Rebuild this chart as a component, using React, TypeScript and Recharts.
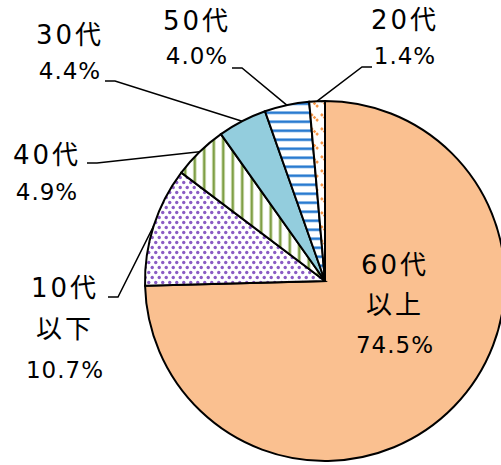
import { PieChart, Pie, Cell } from 'recharts';

// age groups, clockwise from 12 o'clock
const CATEGORIES = ['60代以上', '10代以下', '40代', '30代', '50代', '20代'];
const SHARES = [74.5, 10.7, 4.9, 4.4, 4.0, 1.4];
const LABEL_LINES = [['60代', '以上'], ['10代', '以下'], ['40代'], ['30代'], ['50代'], ['20代']];

const FILLS = [
  '#FAC090',
  'url(#dots)',
  'url(#vstripes)',
  '#93CDDD',
  'url(#hstripes)',
  'url(#dashes)',
];

// manual label placement (like Excel's dragged data labels)
const LABEL_LAYOUT = [
  { x: 395, y: 265, gap: 40 },
  { x: 65, y: 288, gap: 41, elbow: [118, 297], end: [108, 297] },
  { x: 47, y: 155, gap: 37, elbow: [97, 163], end: [87, 163] },
  { x: 70, y: 35, gap: 36, elbow: [115, 81], end: [105, 81] },
  { x: 197, y: 21, gap: 35, elbow: [242, 68], end: [232, 68] },
  { x: 405, y: 20, gap: 36, elbow: [362, 67], end: [372, 67] },
];

const data = CATEGORIES.map((name, i) => ({ name, value: SHARES[i] }));

const RAD = Math.PI / 180;
const FONT = '"DejaVu Sans", "Noto Sans CJK JP", sans-serif';

const renderLabel = (props: any) => {
  const { cx, cy, midAngle, outerRadius } = props;
  const index = props.index ?? CATEGORIES.indexOf(props.name);
  const layout = LABEL_LAYOUT[index];
  const lines = [...LABEL_LINES[index], `${SHARES[index].toFixed(1)}%`];
  const sx = cx + outerRadius * Math.cos(-midAngle * RAD);
  const sy = cy + outerRadius * Math.sin(-midAngle * RAD);
  return (
    <g key={`label-${index}`}>
      {layout.elbow && (
        <polyline
          points={`${sx},${sy} ${layout.elbow[0]},${layout.elbow[1]} ${layout.end[0]},${layout.end[1]}`}
          fill="none"
          stroke="#000"
          strokeWidth={1.5}
        />
      )}
      {lines.map((line, j) => {
        const isPct = j === lines.length - 1;
        return (
          <text
            key={j}
            x={layout.x}
            y={layout.y + j * layout.gap}
            textAnchor="middle"
            dominantBaseline="central"
            fontFamily={FONT}
            fontSize={isPct ? 23 : 26}
            letterSpacing={isPct ? 1 : 3}
            fill="#000"
          >
            {line}
          </text>
        );
      })}
    </g>
  );
};

export default function App() {
  return (
    <div style={{ width: 501, height: 465 }}>
      <style>{`body { margin: 0; }`}</style>
      <PieChart width={501} height={465} margin={{ top: 0, right: 0, bottom: 0, left: 0 }}>
        <defs>
          <pattern id="dots" width="7" height="10" patternUnits="userSpaceOnUse">
            <rect width="7" height="10" fill="#fff" />
            <circle cx="1.75" cy="2.5" r="1.7" fill="#8a5cc4" />
            <circle cx="5.25" cy="7.5" r="1.7" fill="#8a5cc4" />
          </pattern>
          <pattern id="vstripes" width="9.5" height="10" patternUnits="userSpaceOnUse">
            <rect width="9.5" height="10" fill="#fff" />
            <rect x="3" width="3.5" height="10" fill="#c9d9ab" />
            <rect x="3.75" width="2" height="10" fill="#7f9f46" />
          </pattern>
          <pattern id="hstripes" width="10" height="9" patternUnits="userSpaceOnUse">
            <rect width="10" height="9" fill="#fff" />
            <rect y="3" width="10" height="3.5" fill="#a9cbee" />
            <rect y="3.75" width="10" height="2" fill="#2a7bd0" />
          </pattern>
          <pattern id="dashes" width="10" height="14" patternUnits="userSpaceOnUse">
            <rect width="10" height="14" fill="#fff" />
            <line x1="1" y1="2" x2="8" y2="9" stroke="#f79646" strokeWidth="2.5" strokeDasharray="2.5 1.2" />
          </pattern>
        </defs>
        <Pie
          data={data}
          dataKey="value"
          nameKey="name"
          cx={325}
          cy={281}
          outerRadius={180}
          startAngle={90}
          endAngle={-270}
          stroke="#000"
          strokeWidth={2}
          labelLine={false}
          label={renderLabel}
          isAnimationActive={false}
        >
          {data.map((entry, i) => (
            <Cell key={`cell-${entry.name}`} fill={FILLS[i]} />
          ))}
        </Pie>
      </PieChart>
    </div>
  );
}
